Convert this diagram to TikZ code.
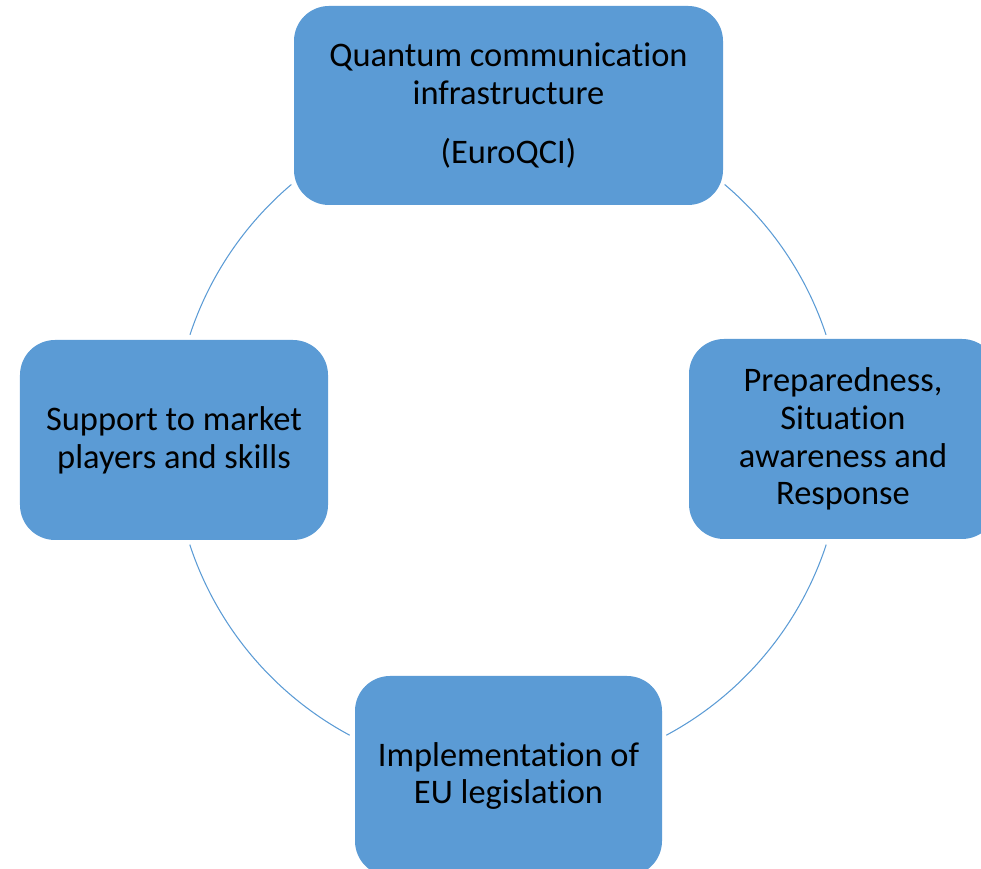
\documentclass[tikz,border=0pt]{standalone}
\usepackage{fontspec}
\setmainfont{Carlito}[Ligatures=NoCommon]
\usepackage{tikz}
\usetikzlibrary{shapes.misc}
\definecolor{cycleblue}{HTML}{5B9BD5}

\begin{document}
\begin{tikzpicture}[
  stage/.style={rectangle, rounded corners=0.7cm, fill=cycleblue, draw=none,
    align=center, font=\fontsize{19.6}{21.5}\selectfont, inner sep=0pt},
  ring/.style={draw=cycleblue, line width=0.6pt}]
\useasboundingbox (0,0) rectangle (19.62,17.38);
\coordinate (c) at (10.16,8.58);
\node (qci) at (10.17,15.27) [stage, minimum width=8.58cm, minimum height=3.98cm] {Quantum communication\\infrastructure\\[0.42cm](EuroQCI)};
\node (prep) at (16.86,8.6) [stage, minimum width=6.16cm, minimum height=4cm] {Preparedness,\\Situation\\awareness and\\Response};
\node (impl) at (10.17,1.86) [stage, minimum width=6.14cm, minimum height=4cm] {Implementation of\\EU legislation};
\node (supp) at (3.48,8.58) [stage, minimum width=6.16cm, minimum height=4cm] {Support to market\\players and skills};
\coordinate (qcie) at ([shift={(49.7:6.7)}]c);
\coordinate (prepe) at ([shift={(-18.2:6.7)}]c);
\coordinate (imple) at ([shift={(-118.2:6.7)}]c);
\coordinate (suppe) at ([shift={(161.7:6.7)}]c);
\draw[ring] (qcie) arc[start angle=49.7, end angle=18.3, radius=6.7];
\draw[ring] (prepe) arc[start angle=-18.2, end angle=-61.8, radius=6.7];
\draw[ring] (imple) arc[start angle=-118.2, end angle=-161.8, radius=6.7];
\draw[ring] (suppe) arc[start angle=161.7, end angle=130.3, radius=6.7];
\end{tikzpicture}
\end{document}
